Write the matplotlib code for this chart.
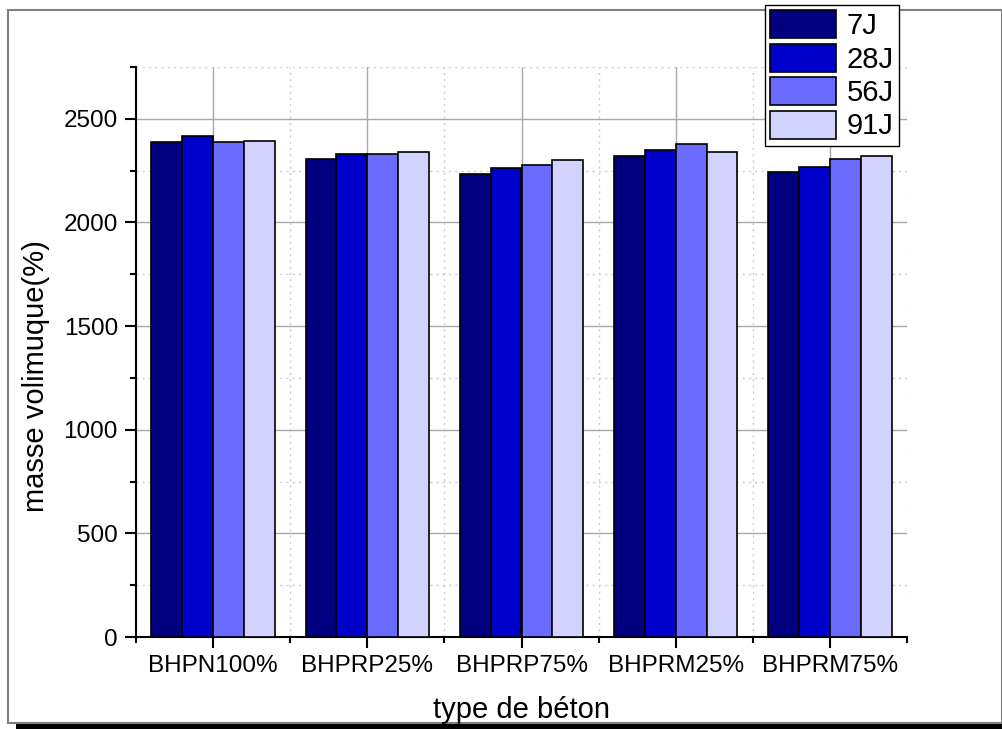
import numpy as np
import matplotlib
matplotlib.use('Agg')
import matplotlib.pyplot as plt
from matplotlib.patches import Rectangle
from matplotlib.ticker import MultipleLocator, FixedLocator

plt.rcParams['font.family'] = ['Liberation Sans', 'DejaVu Sans']

# Bulk density per concrete type and curing age
categories = ['BHPN100%', 'BHPRP25%', 'BHPRP75%', 'BHPRM25%', 'BHPRM75%']
ages = ['7J', '28J', '56J', '91J']
masse_7j = [2386, 2307, 2233, 2321, 2243]
masse_28j = [2419, 2328, 2263, 2350, 2267]
masse_56j = [2389, 2331, 2276, 2378, 2308]
masse_91j = [2394, 2341, 2300, 2341, 2320]
series = [masse_7j, masse_28j, masse_56j, masse_91j]
colors = ['#000080', '#0000CD', '#6B6BFF', '#D2D2FF']

fig = plt.figure(figsize=(10.03, 7.29), dpi=100)

# page frame with a dark drop shadow
W, H = 1003, 729
fig.patches.append(Rectangle((16 / W, 0), (W - 16) / W, 6 / H, transform=fig.transFigure,
                             facecolor='black', edgecolor='none', zorder=0))
fig.patches.append(Rectangle((8 / W, 6 / H), (W - 9) / W, (H - 16) / H, transform=fig.transFigure,
                             facecolor='white', edgecolor='#7f7f7f', linewidth=1.5, zorder=1))

ax = fig.add_axes([136 / W, 1 - 637 / H, (907 - 136) / W, (637 - 67) / H])
ax.set_zorder(2)
ax.patch.set_alpha(0)

x = np.arange(1, len(categories) + 1)
width = 0.2
offsets = (np.arange(len(ages)) - 1.5) * width
for vals, off, col, lab in zip(series, offsets, colors, ages):
    ax.bar(x + off, vals, width, color=col, edgecolor='black', linewidth=1.2, label=lab, zorder=3)

ax.set_xlim(0.5, 5.5)
ax.set_ylim(0, 2750)
ax.set_xticks(x)
ax.set_xticklabels(categories)
ax.xaxis.set_minor_locator(FixedLocator(np.arange(0.5, 6.0, 1.0)))
ax.yaxis.set_major_locator(MultipleLocator(500))
ax.yaxis.set_minor_locator(MultipleLocator(250))

ax.grid(True, which='major', color='#a8a8a8', linewidth=1.0, linestyle='-', zorder=0)
ax.grid(True, which='minor', color='#cccccc', linewidth=1.0, linestyle=(0, (1.5, 3)), zorder=0)
ax.set_axisbelow(True)

for side in ['top', 'right']:
    ax.spines[side].set_visible(False)
for side in ['left', 'bottom']:
    ax.spines[side].set_linewidth(1.5)

ax.tick_params(which='major', direction='out', length=8, width=1.5, labelsize=17.5, pad=5)
ax.tick_params(which='minor', direction='out', length=4, width=1.5)

ax.set_xlabel('type de béton', fontsize=21, labelpad=14)
ax.set_ylabel('masse volimuque(%)', fontsize=21)
ax.yaxis.set_label_coords(-0.112, 0.458)

leg = fig.legend(loc='upper left', bbox_to_anchor=(765 / W, 1 - 5 / H), fontsize=21,
                 handlelength=2.26, handleheight=1.1, handletextpad=0.35,
                 labelspacing=0.12, borderpad=0.18, borderaxespad=0,
                 fancybox=False, framealpha=1, edgecolor='black')
leg.get_frame().set_linewidth(1.0)
leg.set_zorder(5)

fig.savefig('out.png', dpi=100)
